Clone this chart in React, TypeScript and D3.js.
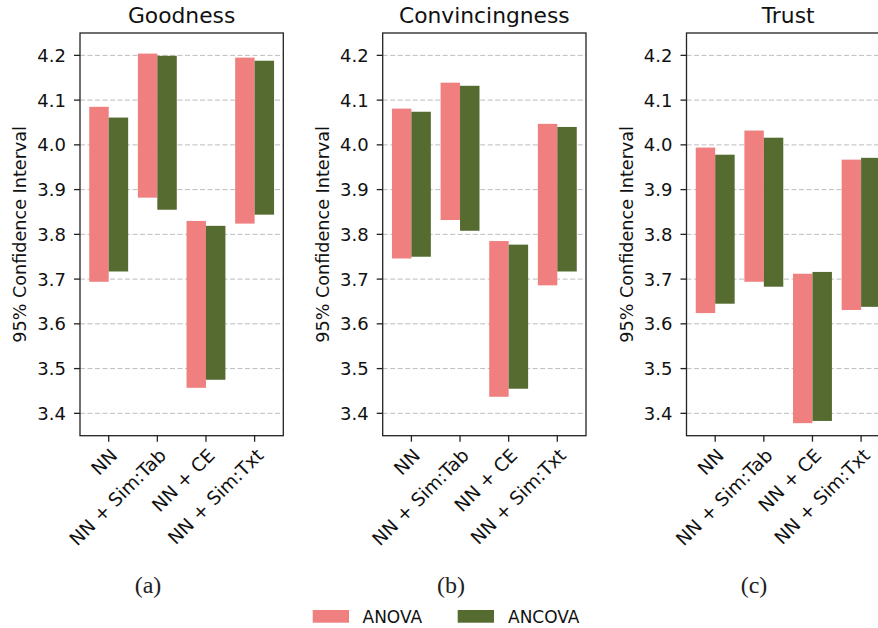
import React from "react";
import { scaleLinear } from "d3";

const categories = ["NN", "NN + Sim:Tab", "NN + CE", "NN + Sim:Txt"];
const metrics = ["Goodness", "Convincingness", "Trust"];
const captions = ["(a)", "(b)", "(c)"];
const yTicks = [3.4, 3.5, 3.6, 3.7, 3.8, 3.9, 4.0, 4.1, 4.2];

// [low, high] of the 95% CI for each category
const goodnessAnova = [[3.694, 4.085], [3.882, 4.204], [3.457, 3.830], [3.824, 4.195]];
const goodnessAncova = [[3.717, 4.061], [3.855, 4.199], [3.475, 3.819], [3.844, 4.188]];
const convincingAnova = [[3.746, 4.081], [3.832, 4.139], [3.437, 3.785], [3.686, 4.047]];
const convincingAncova = [[3.750, 4.074], [3.808, 4.132], [3.455, 3.777], [3.717, 4.040]];
const trustAnova = [[3.624, 3.994], [3.694, 4.032], [3.378, 3.712], [3.631, 3.967]];
const trustAncova = [[3.645, 3.978], [3.683, 4.016], [3.383, 3.716], [3.638, 3.971]];

const anova = [goodnessAnova, convincingAnova, trustAnova];
const ancova = [goodnessAncova, convincingAncova, trustAncova];

const PINK = "#f08080";
const GREEN = "#556b2f";
const SANS = "DejaVu Sans, sans-serif";

const plotTop = 33;
const plotBottom = 435.7;
const plotW = 203.3;
const lefts = [80, 382.7, 686.5];
const captionX = [148, 451, 754];
const barW = 0.4;

const y = scaleLinear().domain([3.35, 4.25]).range([plotBottom, plotTop]);

const Panel = ({ idx }: { idx: number }) => {
  const left = lefts[idx];
  const x = scaleLinear().domain([-0.59, 3.59]).range([left, left + plotW]);
  const bw = x(barW) - x(0);
  const midY = (plotTop + plotBottom) / 2;
  return (
    <g>
      {yTicks.map((t) => (
        <line
          key={"g" + t}
          x1={left}
          x2={left + plotW}
          y1={y(t)}
          y2={y(t)}
          stroke="#bdbdbd"
          strokeWidth={1}
          strokeDasharray="5,2.5"
        />
      ))}
      {categories.map((c, i) => (
        <g key={c}>
          <rect
            x={x(i) - bw}
            width={bw}
            y={y(anova[idx][i][1])}
            height={y(anova[idx][i][0]) - y(anova[idx][i][1])}
            fill={PINK}
          />
          <rect
            x={x(i)}
            width={bw}
            y={y(ancova[idx][i][1])}
            height={y(ancova[idx][i][0]) - y(ancova[idx][i][1])}
            fill={GREEN}
          />
        </g>
      ))}
      <rect
        x={left}
        y={plotTop}
        width={plotW}
        height={plotBottom - plotTop}
        fill="none"
        stroke="#222"
        strokeWidth={1.3}
      />
      {yTicks.map((t) => (
        <g key={"t" + t}>
          <line x1={left - 6} x2={left} y1={y(t)} y2={y(t)} stroke="#222" strokeWidth={1.3} />
          <text
            x={left - 14}
            y={y(t)}
            dy="0.36em"
            textAnchor="end"
            fontFamily={SANS}
            fontSize={18}
            fill="#111"
          >
            {t.toFixed(1)}
          </text>
        </g>
      ))}
      {categories.map((c, i) => (
        <g key={"x" + c}>
          <line
            x1={x(i)}
            x2={x(i)}
            y1={plotBottom}
            y2={plotBottom + 6}
            stroke="#222"
            strokeWidth={1.3}
          />
          <text
            transform={`translate(${x(i)},${plotBottom + 11}) rotate(-45)`}
            dy="0.76em"
            textAnchor="end"
            fontFamily={SANS}
            fontSize={18.5}
            fill="#111"
          >
            {c}
          </text>
        </g>
      ))}
      <text
        x={left + plotW / 2}
        y={23}
        textAnchor="middle"
        fontFamily={SANS}
        fontSize={21.8}
        fill="#111"
      >
        {metrics[idx]}
      </text>
      <text
        transform={`translate(${left - 54},${midY}) rotate(-90)`}
        textAnchor="middle"
        fontFamily={SANS}
        fontSize={17.6}
        fill="#111"
      >
        95% Confidence Interval
      </text>
      <text
        x={captionX[idx]}
        y={593}
        textAnchor="middle"
        fontFamily="Liberation Serif, serif"
        fontSize={24}
        fill="#222"
      >
        {captions[idx]}
      </text>
    </g>
  );
};

export default function App() {
  return (
    <svg
      width={878}
      height={628}
      style={{ position: "absolute", left: 0, top: 0, background: "#fff" }}
    >
      <rect width={878} height={628} fill="#fff" />
      {metrics.map((m, i) => (
        <Panel key={m} idx={i} />
      ))}
      <g fontFamily={SANS} fontSize={17} fill="#111">
        <rect x={312.7} y={610} width={36.3} height={12.7} fill={PINK} />
        <text x={362.5} y={622.5}>ANOVA</text>
        <rect x={457.7} y={610} width={36.3} height={12.7} fill={GREEN} />
        <text x={508} y={622.5}>ANCOVA</text>
      </g>
    </svg>
  );
}
